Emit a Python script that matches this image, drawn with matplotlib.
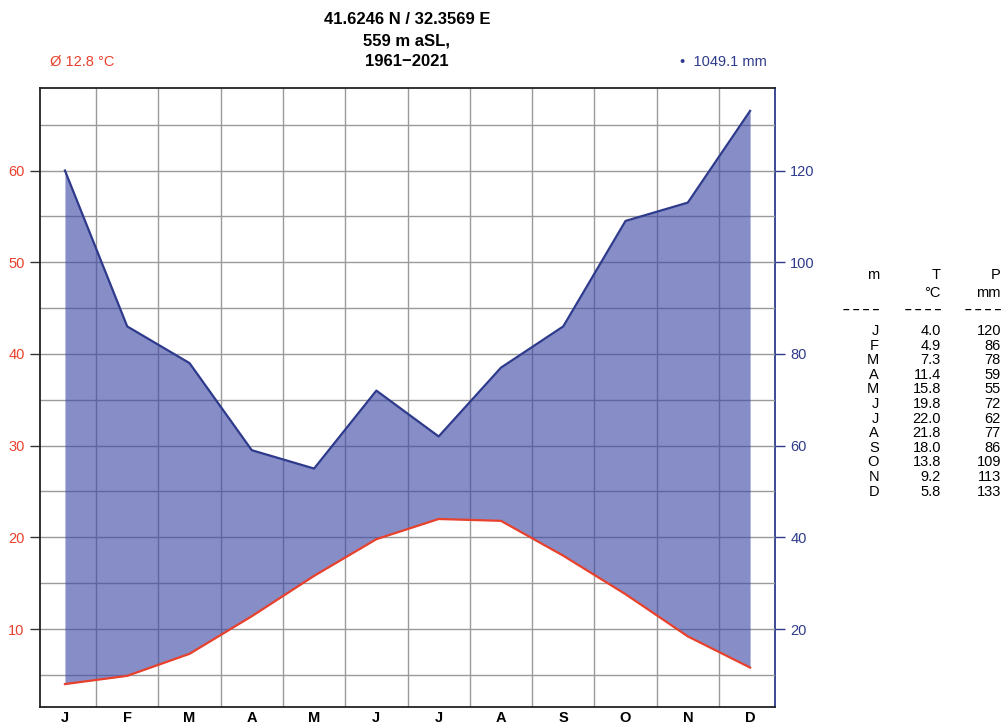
import numpy as np
import matplotlib.pyplot as plt

plt.rcParams.update({'font.family': ['Liberation Sans', 'DejaVu Sans'], 'font.size': 10.5})

# Monthly climate normals
months = ['J', 'F', 'M', 'A', 'M', 'J', 'J', 'A', 'S', 'O', 'N', 'D']
temp_c = [4.0, 4.9, 7.3, 11.4, 15.8, 19.8, 22.0, 21.8, 18.0, 13.8, 9.2, 5.8]
precip_mm = [120, 86, 78, 59, 55, 72, 62, 77, 86, 109, 113, 133]
mean_temp = 12.8
total_precip = 1049.1
station = ['41.6246 N / 32.3569 E', '559 m aSL,', '1961\u22122021']

red = '#e8412c'
blue = '#2e3a8c'
fill_col = '#3d47a3'

fig = plt.figure(figsize=(10.03, 7.27), dpi=100)
ax = fig.add_axes([0.0399, 0.0275, 0.7328, 0.8515])

x = np.arange(len(months))
t = np.array(temp_c)
p = np.array(precip_mm) / 2.0   # 10 degC <-> 20 mm

ax.fill_between(x, p, t, where=p >= t, interpolate=True, color=fill_col,
                alpha=0.62, lw=0, zorder=2)
ax.plot(x, p, color=blue, lw=1.6, zorder=3)
ax.plot(x, t, color=red, lw=1.6, zorder=4)

ax.set_xlim(-0.4, 11.4)
ax.set_ylim(1.5, 69)

# grid: month separators and 5 degree steps
ax.set_xticks(x)
ax.set_xticks(np.arange(0.5, 11, 1), minor=True)
ax.set_yticks(np.arange(10, 61, 10))
ax.set_yticks(np.arange(5, 70, 5), minor=True)
ax.grid(axis='x', which='minor', color='#9a9a9a', lw=1.0)
ax.grid(axis='y', which='both', color='#9a9a9a', lw=1.0)
ax.set_axisbelow(True)

ax.set_xticklabels(months, fontweight='bold', fontsize=10.5)
ax.tick_params(axis='x', which='both', length=0, pad=3)
ax.tick_params(axis='y', which='major', length=7, width=1, colors='#333333',
               labelcolor=red, labelsize=10.5, pad=4)
ax.tick_params(axis='y', which='minor', length=0)

sec = ax.secondary_yaxis('right', functions=(lambda v: v * 2, lambda v: v / 2))
sec.set_yticks(np.arange(20, 121, 20))
sec.tick_params(length=7, width=1, colors=blue, labelcolor=blue, labelsize=10.5, pad=4)
sec.spines['right'].set_color(blue)
sec.spines['right'].set_linewidth(1.3)

for s in ['left', 'bottom', 'top']:
    ax.spines[s].set_color('#222222')
    ax.spines[s].set_linewidth(1.3)
ax.spines['right'].set_visible(False)

# header texts
W, H = 1003.0, 727.0
for i, line in enumerate(station):
    fig.text(407 / W, 1 - (19 + 21.5 * i) / H, line, ha='center', va='center',
             fontsize=12, fontweight='bold')
fig.text(50 / W, 1 - 62 / H, '\u00d8 %.1f \u00b0C' % mean_temp, ha='left', va='center',
         color=red, fontsize=10.5)
fig.text(767 / W, 1 - 62 / H, '\u2022  %.1f mm' % total_precip, ha='right', va='center',
         color=blue, fontsize=10.5)

# table of values
col_r = [879, 941, 1001]
fs = 10.5
for c, h in zip(col_r, ['m', 'T', 'P']):
    fig.text(c / W, 1 - 275 / H, h, ha='right', va='center', fontsize=fs)
for c, h in zip(col_r[1:], ['\u00b0C', 'mm']):
    fig.text(c / W, 1 - 293 / H, h, ha='right', va='center', fontsize=fs)
for c in col_r:
    fig.text(c / W, 1 - 310 / H, '\u2013 \u2013 \u2013 \u2013', ha='right', va='center',
             fontsize=8.5, fontweight='bold')
for i, (m, tv, pv) in enumerate(zip(months, temp_c, precip_mm)):
    y = 1 - (331 + 14.6 * i) / H
    fig.text(col_r[0] / W, y, m, ha='right', va='center', fontsize=fs)
    fig.text(col_r[1] / W, y, '%.1f' % tv, ha='right', va='center', fontsize=fs)
    fig.text(col_r[2] / W, y, '%d' % pv, ha='right', va='center', fontsize=fs)

fig.savefig('out.png', dpi=100)
